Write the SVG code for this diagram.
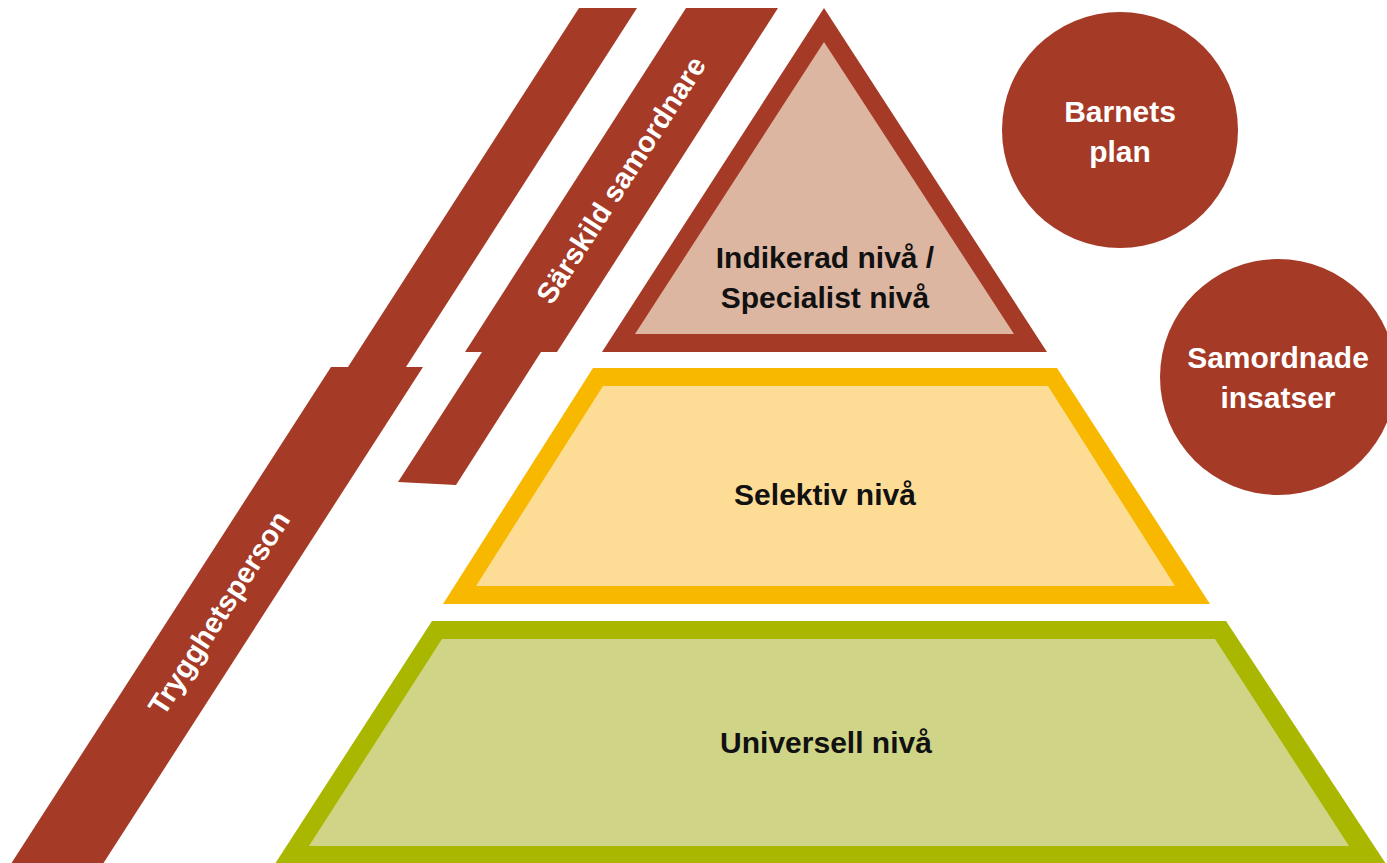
<svg xmlns="http://www.w3.org/2000/svg" width="1387" height="863" viewBox="0 0 1387 863">
<style>
.brown{fill:#A53A27}
.lbl{font-family:"Liberation Sans",Arial,sans-serif;font-weight:bold;text-anchor:middle}
.white{fill:#FFFFFF}
.black{fill:#111111}
</style>
<rect x="0" y="0" width="1387" height="863" fill="#FFFFFF"/>
<g id="band-trygghetsperson">
<polygon class="brown" points="579,8 637,8 406,367 348,367"/>
<polygon class="brown" points="331,367 423,367 99,870 7,870"/>
<text class="lbl white" font-size="29" transform="translate(219,613) rotate(-57.26)" x="0" y="10">Trygghetsperson</text>
</g>
<g id="band-sarskild">
<polygon class="brown" points="686,8 778,8 557,352 465,352"/>
<polygon class="brown" points="482,352 541,352 456,485 398,482"/>
<text class="lbl white" font-size="29" transform="translate(621,180) rotate(-57.26)" x="0" y="10">Särskild samordnare</text>
</g>
<g id="level-indikerad">
<polygon class="brown" points="824,8 1047,352 602,352"/>
<polygon fill="#DDB6A1" points="824,42 1014,334 635,334"/>
<text class="lbl black" font-size="30" x="825" y="268">Indikerad nivå /</text>
<text class="lbl black" font-size="30" x="825" y="308">Specialist nivå</text>
</g>
<g id="level-selektiv">
<polygon fill="#F8B800" points="593,368 1057,368 1210,604 443,604"/>
<polygon fill="#FDDC95" points="603,386 1048,386 1175,586 476,586"/>
<text class="lbl black" font-size="30" x="825" y="505">Selektiv nivå</text>
</g>
<g id="level-universell">
<polygon fill="#AAB700" points="432,621 1226,621 1390,870 271,870"/>
<polygon fill="#D0D487" points="442,639 1215,639 1349,846 309,846"/>
<text class="lbl black" font-size="30" x="826" y="753">Universell nivå</text>
</g>
<g id="circle-barnets-plan">
<circle class="brown" cx="1120" cy="130" r="118"/>
<text class="lbl white" font-size="30" x="1120" y="122">Barnets</text>
<text class="lbl white" font-size="30" x="1120" y="162">plan</text>
</g>
<g id="circle-samordnade">
<circle class="brown" cx="1278" cy="377" r="118"/>
<text class="lbl white" font-size="30" x="1278" y="368">Samordnade</text>
<text class="lbl white" font-size="30" x="1278" y="408">insatser</text>
</g>
<g id="connectors"/>
</svg>
